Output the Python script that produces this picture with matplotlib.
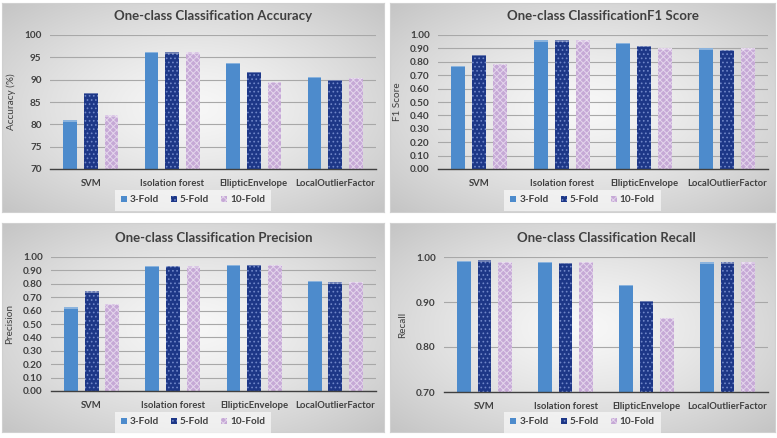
import numpy as np
import matplotlib
matplotlib.use("Agg")
import matplotlib.pyplot as plt

plt.rcParams['font.family'] = ['Lato', 'DejaVu Sans']
plt.rcParams['hatch.linewidth'] = 0.7

# data
methods = ["SVM", "Isolation forest", "EllipticEnvelope", "LocalOutlierFactor"]
folds = ["3-Fold", "5-Fold", "10-Fold"]

accuracy_3 = [80.9, 96.2, 93.8, 90.6]
accuracy_5 = [87.0, 96.1, 91.8, 90.0]
accuracy_10 = [82.0, 96.1, 89.5, 90.4]

f1_3 = [0.77, 0.96, 0.94, 0.90]
f1_5 = [0.85, 0.96, 0.92, 0.89]
f1_10 = [0.785, 0.96, 0.90, 0.90]

precision_3 = [0.625, 0.935, 0.94, 0.82]
precision_5 = [0.745, 0.935, 0.94, 0.81]
precision_10 = [0.65, 0.93, 0.94, 0.815]

recall_3 = [0.991, 0.989, 0.938, 0.988]
recall_5 = [0.993, 0.987, 0.902, 0.988]
recall_10 = [0.990, 0.990, 0.865, 0.988]

W, H = 777, 438
fig = plt.figure(figsize=(W / 100, H / 100), dpi=100)
fig.patch.set_facecolor('white')

def px(x0, y0, x1, y1):
    # pixel box (top-left origin) -> figure fraction rect
    return [x0 / W, 1 - y1 / H, (x1 - x0) / W, (y1 - y0) / H]

# radial gray gradient for the panel backgrounds
gy, gx = np.mgrid[-1:1:200j, -1:1:300j]
rad = np.sqrt(gx ** 2 + gy ** 2) / np.sqrt(2)
grad = 0.97 - 0.20 * rad ** 1.3
grad_rgb = np.dstack([grad, grad, grad])

panels = [
    dict(box=(2, 3, 384, 212), ax=(50, 35, 376, 169),
         title="One-class Classification Accuracy", ylabel="Accuracy (%)",
         data=[accuracy_3, accuracy_5, accuracy_10], ylim=(70, 100),
         ticks=np.arange(70, 101, 5), fmt="{:.0f}", leg_y=200),
    dict(box=(390, 3, 775, 212), ax=(438, 35, 768, 169),
         title="One-class ClassificationF1 Score", ylabel="F1 Score",
         data=[f1_3, f1_5, f1_10], ylim=(0, 1.0),
         ticks=np.arange(0, 1.01, 0.1), fmt="{:.2f}", leg_y=200),
    dict(box=(2, 223, 384, 432), ax=(51, 257, 376, 391),
         title="One-class Classification Precision", ylabel="Precision",
         data=[precision_3, precision_5, precision_10], ylim=(0, 1.0),
         ticks=np.arange(0, 1.01, 0.1), fmt="{:.2f}", leg_y=422),
    dict(box=(390, 223, 775, 432), ax=(444, 257, 768, 392),
         title="One-class Classification Recall", ylabel="Recall",
         data=[recall_3, recall_5, recall_10], ylim=(0.7, 1.0),
         ticks=np.arange(0.7, 1.001, 0.1), fmt="{:.2f}", leg_y=422),
]

colors = ['#4d8bcc', '#1d3787', '#c6a9d6']
hatches = [None, '....', 'xxxxx']
hatch_cols = ['#4d8bcc', '#6f86c8', '#e4d6ec']
txt = '#404040'

x = np.arange(len(methods))
bw = 0.17
step = 0.255

for p in panels:
    bg = fig.add_axes(px(*p['box']), zorder=0)
    bg.imshow(grad_rgb, aspect='auto', extent=[0, 1, 0, 1])
    bg.set_xticks([])
    bg.set_yticks([])
    for s in bg.spines.values():
        s.set_color('#d0d0d0')
        s.set_linewidth(0.8)

    ax = fig.add_axes(px(*p['ax']), zorder=1)
    ax.patch.set_alpha(0)
    lo, hi = p['ylim']
    cap = (hi - lo) * 0.01
    handles = []
    for i, vals in enumerate(p['data']):
        b = ax.bar(x + (i - 1) * step, np.array(vals) - lo, bw,
                   bottom=lo, color=colors[i], hatch=hatches[i],
                   edgecolor=hatch_cols[i], linewidth=0, zorder=3,
                   label=folds[i])
        handles.append(b)
        # lighter cap on each bar
        ax.bar(x + (i - 1) * step, [cap] * len(vals), bw,
               bottom=np.array(vals) - cap,
               color='white', alpha=0.35, linewidth=0, zorder=4)

    ax.set_xlim(-0.5, len(methods) - 0.5)
    ax.set_ylim(lo, hi)
    ax.set_yticks(p['ticks'])
    ax.set_yticklabels([p['fmt'].format(t) for t in p['ticks']])
    ax.set_xticks(x)
    ax.set_xticklabels(methods)
    ax.tick_params(axis='y', length=0, labelsize=7.2, colors=txt, pad=6)
    ax.tick_params(axis='x', length=0, labelsize=6.8, colors=txt, pad=7)
    for lab in ax.get_xticklabels() + ax.get_yticklabels():
        lab.set_fontweight('bold')
    ax.grid(axis='y', color='#a8a8a8', linewidth=0.8, zorder=0)
    for s in ['top', 'right', 'left']:
        ax.spines[s].set_visible(False)
    ax.spines['bottom'].set_color('#404040')
    ax.spines['bottom'].set_linewidth(1.0)
    ax.spines['bottom'].set_zorder(5)
    ax.set_ylabel(p['ylabel'], fontsize=7.2, color=txt, labelpad=6)
    ax.set_title(p['title'], fontsize=9.5, fontweight='bold', color='#404040',
                 pad=11)

    bx0, by0, bx1, by1 = p['box']
    leg = fig.legend(handles=handles, loc='center',
                     bbox_to_anchor=((bx0 + bx1) / 2 / W, 1 - p['leg_y'] / H),
                     ncol=3, frameon=True, handlelength=0.6,
                     handleheight=0.6, handletextpad=0.3, columnspacing=1.2,
                     borderpad=0.4, prop={'weight': 'bold', 'size': 7.2})
    leg.get_frame().set_facecolor('white')
    leg.get_frame().set_alpha(0.6)
    leg.get_frame().set_edgecolor('none')
    leg.get_frame().set_boxstyle('square', pad=0.2)
    for t in leg.get_texts():
        t.set_color(txt)
    leg.set_zorder(6)

fig.savefig("out.png", dpi=100)
